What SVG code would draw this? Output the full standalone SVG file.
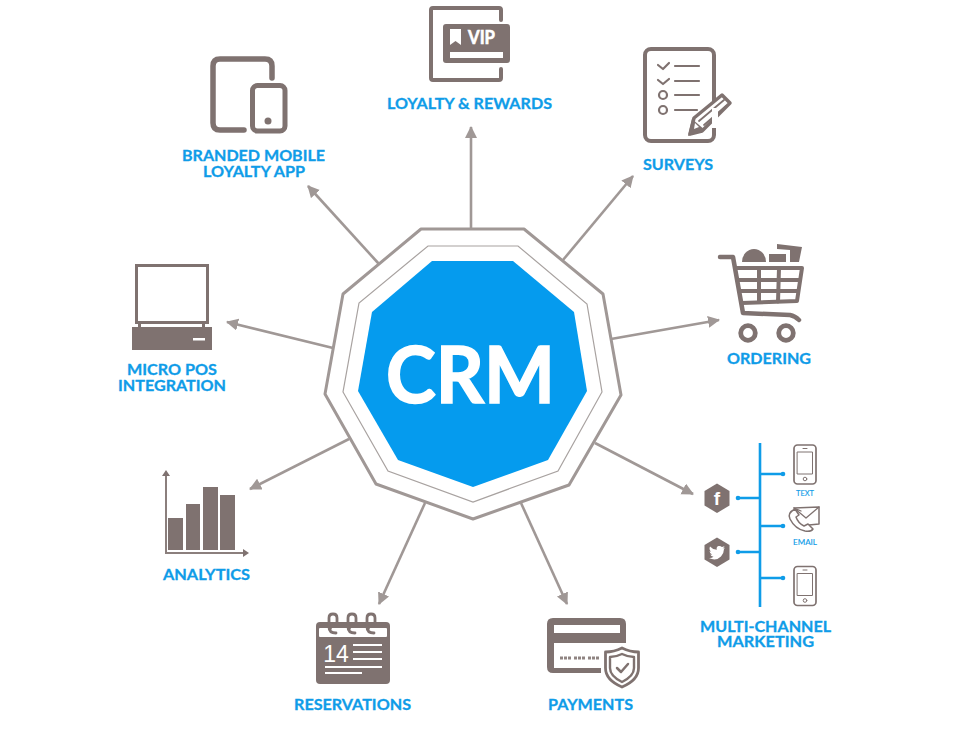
<svg xmlns="http://www.w3.org/2000/svg" width="960" height="750" viewBox="0 0 960 750">
<defs>
<style>
text{font-family:"Lato","Liberation Sans",sans-serif}
.lb{font-size:15.5px;font-weight:700;fill:#0f9ce8;stroke:#0f9ce8;stroke-width:.3px;text-anchor:middle}
.sm{font-size:8px;fill:#0f9ce8;stroke:#0f9ce8;stroke-width:.15px;text-anchor:middle}
.s{fill:none;stroke:#7f7270;stroke-linecap:round;stroke-linejoin:round}
.f{fill:#7f7270}
.w{stroke:#fff;fill:none}
.a{stroke:#a09896;stroke-width:2.600;fill:none;marker-end:url(#ah)}
.b{stroke:#0f9ce8;stroke-width:2.600;fill:none}
.d{fill:#0f9ce8}
</style>
<marker id="ah" markerUnits="userSpaceOnUse" markerWidth="14" markerHeight="14" refX="11" refY="6" orient="auto"><path d="M0 0L12 6L0 12Z" fill="#a09896"/></marker>
</defs>
<rect width="960" height="750" fill="#fff"/>
<g id="connectors">
<path class="a" d="M471 228V127"/>
<path class="a" d="M563 260L633 176"/>
<path class="a" d="M611 339L719 320"/>
<path class="a" d="M595 443L693 494"/>
<path class="a" d="M521 503L567 604"/>
<path class="a" d="M425 503L379 604"/>
<path class="a" d="M349 439L250 489"/>
<path class="a" d="M333 348L227 322"/>
<path class="a" d="M379 264L308 186"/>
</g>
<g id="crm">
<path d="M421 229H524L603 294L621 395L569 485L473 519L376 484L325 394L343 294Z" fill="#fff" stroke="#a09896" stroke-width="3" stroke-linejoin="round"/>
<path d="M428 246H518L587 304L602 392L558 471L473 502L388 471L343 392L359 303Z" fill="#fff" stroke="#a8a2a0" stroke-width="1.2"/>
<path d="M432 261H513L574 312L587 391L548 460L473 487L398 460L358 391L372 312Z" fill="#059bee"/>
<text x="470.500" y="403" font-size="78" font-weight="700" fill="#fff" stroke="#fff" stroke-width="1.600" text-anchor="middle" textLength="169" lengthAdjust="spacingAndGlyphs">CRM</text>
</g>
<g id="mobile">
<path class="s" stroke-width="5.500" d="M272 78V66Q272 59 265 59H220Q213 59 213 66V123Q213 130 220 130H244"/>
<rect class="s" x="252.500" y="85.500" width="32.500" height="45.500" rx="5" stroke-width="5"/>
<circle class="f" cx="268" cy="121" r="3.500"/>
<text class="lb" x="253.500" y="161" textLength="143" lengthAdjust="spacingAndGlyphs">BRANDED MOBILE</text>
<text class="lb" x="254" y="177" textLength="102" lengthAdjust="spacingAndGlyphs">LOYALTY APP</text>
</g>
<g id="loyalty">
<path class="s" stroke-width="4" d="M501 20V10Q501 8 499 8H433Q431 8 431 10V78Q431 80 433 80H499Q501 80 501 78V69"/>
<rect class="f" x="443" y="24" width="67" height="39" rx="3"/>
<path d="M450 29H461V45L455.500 41L450 45Z" fill="#fff"/>
<text x="481.500" y="44" font-size="18" font-weight="700" fill="#fff" stroke="#fff" stroke-width=".6" text-anchor="middle" textLength="27" lengthAdjust="spacingAndGlyphs">VIP</text>
<rect x="450" y="52" width="53" height="6" fill="#fff"/>
<text class="lb" x="469.500" y="109" textLength="165" lengthAdjust="spacingAndGlyphs">LOYALTY &amp; REWARDS</text>
</g>
<g id="surveys">
<rect class="s" x="645" y="49" width="69" height="92" rx="6" stroke-width="4"/>
<path class="s" stroke-width="2.200" d="M658 65L663 69L669 63M658 80L663 84L669 79M675 66H699M675 81H699M675 95H699M675 110H697"/>
<circle class="s" cx="663" cy="95" r="4" stroke-width="2.200"/>
<circle class="s" cx="663" cy="110" r="4" stroke-width="2.200"/>
<path d="M690 134L694 118L722 95L730 103L702 131Z" fill="#fff" stroke="#7f7270" stroke-width="3.500" stroke-linejoin="round"/>
<path class="s" stroke-width="1.800" d="M699 121L724 100M704 125L726 106"/>
<path class="f" d="M688 136L692 119L705 130Z"/>
<path d="M694 129L695 123L699 127Z" fill="#fff"/>
<rect x="712" y="108" width="6" height="20" fill="#fff"/>
<text class="lb" x="678" y="170" textLength="70" lengthAdjust="spacingAndGlyphs">SURVEYS</text>
</g>
<g id="ordering">
<path class="s" stroke-width="4.500" d="M720 257H733L743 313L790 315Q795 316 799 320"/>
<path class="s" stroke-width="4" d="M737 268H802L797 301L742 303M739 280H799M741 291H798M759 268L759 302M779 268L778 302"/>
<circle class="s" cx="748" cy="333" r="7.300" stroke-width="4.800"/>
<circle class="s" cx="786" cy="333" r="7.300" stroke-width="4.800"/>
<path class="f" d="M742 262A12 13 0 0 1 766 262Z"/>
<path class="f" d="M769 254H786V262H769Z"/>
<path class="f" d="M777 244L802 247L799 262H790V250L777 249Z"/>
<text class="lb" x="769" y="364" textLength="84" lengthAdjust="spacingAndGlyphs">ORDERING</text>
</g>
<g id="pos">
<rect x="136.500" y="265.500" width="71" height="57" fill="#fff" stroke="#7f7270" stroke-width="3"/>
<path class="f" d="M138 323H141V327H138ZM202 323H205V327H202ZM132 327H212V350H132Z"/>
<rect x="193" y="338" width="12" height="2.500" fill="#fff"/>
<text class="lb" x="172" y="375" textLength="90" lengthAdjust="spacingAndGlyphs">MICRO POS</text>
<text class="lb" x="172" y="391" textLength="108" lengthAdjust="spacingAndGlyphs">INTEGRATION</text>
</g>
<g id="analytics">
<path d="M166 476V553H244" fill="none" stroke="#8b7f7d" stroke-width="2"/>
<path class="f" d="M166 470L170 476H162ZM249 553L243 557V549Z"/>
<path class="f" d="M168 518H183V550H168ZM186 504H200V550H186ZM203 487H218V550H203ZM220 495H235V550H220Z"/>
<text class="lb" x="206.500" y="580" textLength="87" lengthAdjust="spacingAndGlyphs">ANALYTICS</text>
</g>
<g id="reservations">
<rect class="f" x="316" y="622" width="74" height="62" rx="4"/>
<rect x="319" y="628" width="68" height="9" rx="1" fill="#fff"/>
<g class="s" stroke-width="2.800">
<path d="M330 630Q330 626 333 626Q337 626 337 622V618Q337 614 333 614Q329 614 329 618V627Q329 633 336 633"/>
<path d="M349 630Q349 626 352 626Q356 626 356 622V618Q356 614 352 614Q348 614 348 618V627Q348 633 355 633"/>
<path d="M368 630Q368 626 371 626Q375 626 375 622V618Q375 614 371 614Q367 614 367 618V627Q367 633 374 633"/>
</g>
<text x="336" y="662" font-size="23" fill="#fff" text-anchor="middle" style="font-family:'Liberation Sans',sans-serif">14</text>
<path class="w" stroke-width="2" d="M353 645H382M353 652H382M353 659H382M325 667H382M325 673H362"/>
<text class="lb" x="352.500" y="710" textLength="117" lengthAdjust="spacingAndGlyphs">RESERVATIONS</text>
</g>
<g id="payments">
<path class="f" fill-rule="evenodd" d="M553 618H620Q626 618 626 624V643H554V668H601V673H553Q547 673 547 667V624Q547 618 553 618ZM554 625V633H620V625Z"/>
<path d="M622 646Q631 651 640 651V668Q640 681 622 689Q604 681 604 668V651Q613 651 622 646Z" fill="#fff"/>
<path class="s" stroke-width="2.800" d="M622 648Q630 652 638.500 652V668Q638.500 680 622 687Q605.500 680 605.500 668V652Q614 652 622 648Z"/>
<path class="s" stroke-width="2.400" d="M622 654Q628 657 634 657V668Q634 676 622 682Q610 676 610 668V657Q616 657 622 654Z"/>
<path class="s" stroke-width="2.500" d="M617 668L621 672L628 664"/>
<path stroke="#8f8482" stroke-width="3" fill="none" stroke-dasharray="3 1 3 1 3 3" d="M560 658H599"/>
<text class="lb" x="590.500" y="710" textLength="85" lengthAdjust="spacingAndGlyphs">PAYMENTS</text>
</g>
<g id="marketing">
<path class="b" d="M760 443V607M760 474H783M760 526H783M760 578H783M738 498H760M738 552H760"/>
<circle class="d" cx="783" cy="474" r="2.300"/>
<circle class="d" cx="783" cy="526" r="2.300"/>
<circle class="d" cx="783" cy="578" r="2.300"/>
<circle class="d" cx="738" cy="498" r="2.300"/>
<circle class="d" cx="738" cy="552" r="2.300"/>
<path class="f" d="M717 483.500L729.500 491V505.500L717 513L704.500 505.500V491Z"/>
<text x="717" y="505" font-size="19" font-weight="700" fill="#fff" text-anchor="middle" style="font-family:'Liberation Sans',sans-serif">f</text>
<path class="f" d="M717 537.500L729.500 545V559.500L717 567L704.500 559.500V545Z"/>
<path fill="#fff" d="M725 547.500Q723.500 548.500 722.500 548.500Q724 547.500 724.500 546Q723 546.800 721.800 547Q720.500 545.500 718.500 546Q716 547 716.800 549.800Q712.500 549.500 710 546.500Q708.700 549.500 711 551.500Q710 551.500 709.500 551Q709.700 553.500 712 554.500Q711 554.800 710.200 554.500Q711 556.500 713.500 556.800Q711.500 558.300 709 558Q716 561.500 721 556.500Q724 553 724 549Z"/>
<g class="s" stroke-width="1.700">
<rect x="794" y="445" width="22" height="39" rx="3.500"/>
<rect x="797.500" y="452" width="15" height="22" stroke-width="1"/>
<circle cx="805" cy="479" r="1.800" stroke-width="1"/>
<path d="M803 448.500H807" stroke-width="1"/>
<rect x="794" y="566.500" width="22" height="39" rx="3.500"/>
<rect x="797.500" y="573.500" width="15" height="22" stroke-width="1"/>
<circle cx="805" cy="600.500" r="1.800" stroke-width="1"/>
<path d="M803 570H807" stroke-width="1"/>
<path d="M794 508L819 507L819 524L809 525" stroke-width="1.500"/>
<path d="M794 508L806 518L819 507M801 511L794 508" stroke-width="1.300"/>
<path d="M795 509Q787 513 790 519Q795 529 805 531Q811 532 813 529L808 524L804 526Q798 523 796 517L799 515Z" fill="#fff" stroke-width="1.500"/>
</g>
<text class="sm" x="805" y="496" textLength="18" lengthAdjust="spacingAndGlyphs">TEXT</text>
<text class="sm" x="805" y="545" textLength="24" lengthAdjust="spacingAndGlyphs">EMAIL</text>
<text class="lb" x="765.500" y="632" textLength="131" lengthAdjust="spacingAndGlyphs">MULTI-CHANNEL</text>
<text class="lb" x="765.500" y="647" textLength="97" lengthAdjust="spacingAndGlyphs">MARKETING</text>
</g>
</svg>
